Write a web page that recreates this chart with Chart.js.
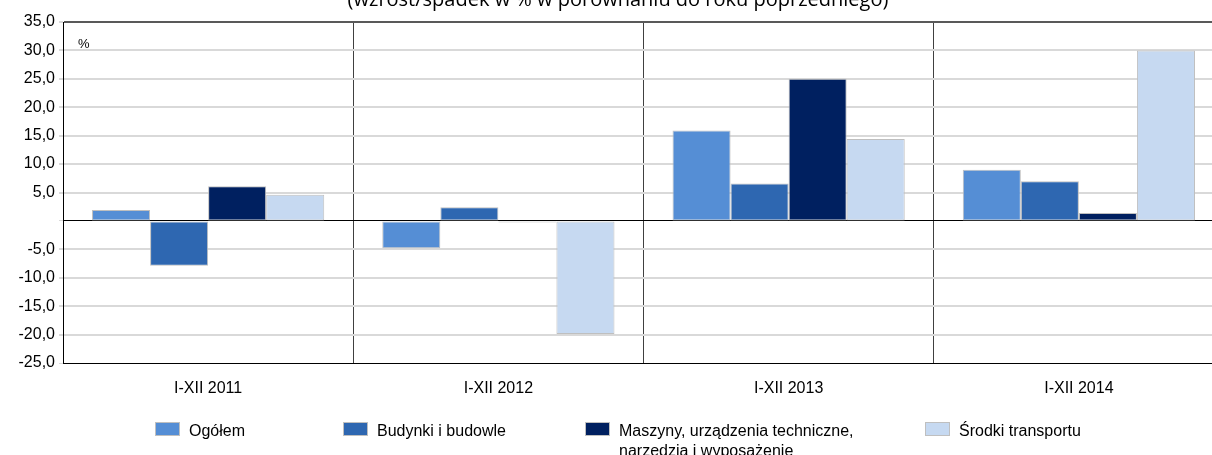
<!DOCTYPE html>
<html>
<head>
<meta charset="utf-8">
<script src="https://cdn.jsdelivr.net/npm/chart.js@4.4.1/dist/chart.umd.min.js"></script>
<style>
  html, body { margin: 0; padding: 0; background: #fff; width: 1212px; height: 455px; overflow: hidden; }
  #wrap { position: absolute; left: 0; top: 0; width: 1224px; height: 455px; }
  #title { position: absolute; top: -12px; left: 0; width: 1236px; text-align: center;
           font-family: "Open Sans", sans-serif; font-size: 20px; line-height: 22px; color: #000; white-space: nowrap; }
  #unit { position: absolute; left: 78px; top: 36px; font-family: "Liberation Sans", Arial, sans-serif; font-size: 13px; color: #000; }
  .leg { position: absolute; top: 422px; font-family: "Liberation Sans", Arial, sans-serif; font-size: 16px; line-height: 20px; color: #000; white-space: nowrap; }
  .leg .box { position: absolute; left: 0; top: 0; width: 25px; height: 14px; box-sizing: border-box; border: 1px solid #bfbfbf; }
  .leg .txt { position: absolute; left: 34px; top: -1px; }
</style>
</head>
<body>
<div id="wrap"><canvas id="c" width="1224" height="455"></canvas></div>
<div id="title">(wzrost/spadek w % w porównaniu do roku poprzedniego)</div>
<div id="unit">%</div>
<div id="legend"></div>
<script>
const categories = ["I-XII 2011", "I-XII 2012", "I-XII 2013", "I-XII 2014"];
const seriesNames = ["Ogółem", "Budynki i budowle", "Maszyny, urządzenia techniczne,\nnarzędzia i wyposażenie", "Środki transportu"];
const ogolem   = [1.9, -4.8, 15.9, 9.0];
const budynki  = [-7.9, 2.4, 6.6, 7.0];
const maszyny  = [6.1, -0.3, 25.0, 1.4];
const srodki   = [4.6, -19.9, 14.4, 30.0];
const yMin = -25, yMax = 35, yStep = 5;

const colors = ["#558ED5", "#2E67B1", "#002060", "#C6D9F1"];
const legendX = [155, 343, 585, 925];

const seriesValues = [ogolem, budynki, maszyny, srodki];
const datasets = seriesValues.map((vals, i) => ({
  label: seriesNames[i],
  data: vals,
  backgroundColor: colors[i],
  borderColor: "#bfbfbf",
  borderWidth: 1,
  borderSkipped: false,
  categoryPercentage: 0.8,
  barPercentage: 1.0
}));

// HTML legend
const legEl = document.getElementById("legend");
seriesNames.forEach((name, i) => {
  const d = document.createElement("div");
  d.className = "leg";
  d.style.left = legendX[i] + "px";
  const b = document.createElement("div");
  b.className = "box";
  b.style.background = colors[i];
  const t = document.createElement("div");
  t.className = "txt";
  t.innerHTML = name.split("\n").join("<br>");
  d.appendChild(b); d.appendChild(t);
  legEl.appendChild(d);
});

new Chart(document.getElementById("c"), {
  type: "bar",
  data: { labels: categories, datasets },
  options: {
    responsive: false,
    animation: false,
    layout: { padding: { top: 22, left: 0, right: 0, bottom: 0 } },
    plugins: { legend: { display: false }, tooltip: { enabled: false }, title: { display: false } },
    scales: {
      x: {
        grid: { offset: true, color: "#404040", lineWidth: 1, drawTicks: false },
        border: { display: true, color: "#000", width: 1 },
        ticks: { color: "#000", padding: 16, font: { family: "Liberation Sans", size: 16 } },
        afterFit: (s) => { s.height = 92; }
      },
      y: {
        min: yMin, max: yMax,
        grid: {
          color: (ctx) => {
            const v = ctx.tick && ctx.tick.value;
            if (v === 0 || v === yMin) return "#000";
            if (v === yMax) return "#595959";
            return "#d9d9d9";
          },
          lineWidth: (ctx) => {
            const v = ctx.tick && ctx.tick.value;
            if (v === 0 || v === yMin) return 1;
            return 2;
          },
          tickLength: 4,
          tickColor: "#d9d9d9"
        },
        border: { display: true, color: "#000", width: 1 },
        ticks: {
          stepSize: yStep,
          color: "#000",
          padding: 4,
          font: { family: "Liberation Sans", size: 16 },
          callback: (v) => v === 0 ? "" : v.toFixed(1).replace(".", ",")
        },
        afterFit: (s) => { s.width = 63; }
      }
    }
  }
});
</script>
</body>
</html>
